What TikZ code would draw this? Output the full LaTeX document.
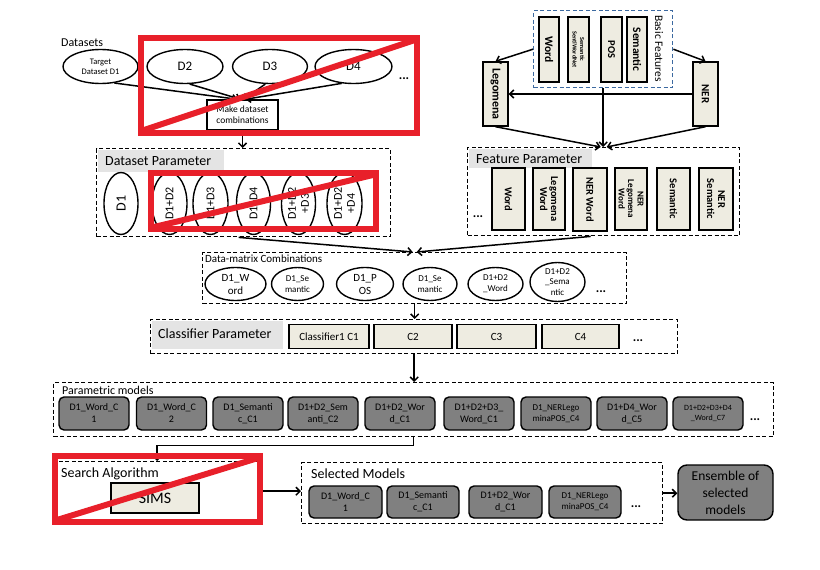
\documentclass[tikz,border=0pt]{standalone}
\usepackage{fontspec}
\setmainfont{Carlito}
\usetikzlibrary{shapes.geometric,arrows.meta}
\definecolor{beige}{RGB}{238,236,225}
\definecolor{mgray}{RGB}{128,128,128}
\definecolor{lblg}{RGB}{228,228,228}
\definecolor{xred}{RGB}{232,32,42}
\definecolor{bdash}{RGB}{60,105,160}
\newcommand\fsz[2]{\fontsize{#1pt}{#2pt}\selectfont}
\begin{document}
\begin{tikzpicture}[x=1pt,y=-1pt,
  bx/.style={draw,line width=1.4pt,fill=beige,inner sep=0pt,align=center},
  rbx/.style={draw,line width=1.4pt,fill=mgray,rounded corners=5pt,inner sep=0pt,align=center,font=\fsz{10}{12}},
  el/.style={ellipse,draw,line width=1.4pt,fill=white,inner sep=0pt,align=center},
  dbox/.style={draw,line width=1.4pt,dash pattern=on 4pt off 2.5pt,inner sep=0pt,anchor=north west},
  lblbg/.style={fill=lblg,anchor=north west,inner sep=0pt},
  arr/.style={-{Straight Barb[length=4pt,width=8pt]},line width=1.5pt},
  redx/.style={draw=xred,line width=6pt},
  ttl/.style={anchor=west,inner sep=0pt,font=\fsz{14}{16}},
  rotu/.style={rotate=90,inner sep=0pt,align=center},
  rotd/.style={rotate=-90,inner sep=0pt,align=center},
  dots/.style={inner sep=0pt,font=\bfseries\fsz{13}{14}},
]
\useasboundingbox (0,0) rectangle (820,570);

% ---------------- Datasets ----------------
\node[ttl,font=\fsz{12}{14}] (dsl) at (61,43) {Datasets};
\node[el,minimum width=75pt,minimum height=34pt,font=\fsz{8.5}{10}] (t1) at (100.5,66.5) {Target\\Dataset D1};
\node[el,minimum width=76pt,minimum height=34pt,font=\fsz{13}{15}] (d2) at (185,66.5) {D2};
\node[el,minimum width=75pt,minimum height=34pt,font=\fsz{13}{15}] (d3) at (270,66.5) {D3};
\node[el,minimum width=77pt,minimum height=34pt,font=\fsz{13}{15}] (d4) at (353.5,66.5) {D4};
\node[dots] (dsdots) at (404,79) {...};
\node[draw,line width=1.4pt,fill=white,minimum width=71pt,minimum height=30pt,inner sep=0pt,align=center,font=\fsz{9.5}{11}] (mk) at (242.5,115) {Make dataset\\combinations};
\draw[arr] (t1.-50) -- ([xshift=-5pt]mk.north);
\draw[arr] (d2.-75) -- ([xshift=-2pt]mk.north);
\draw[arr] (d3.-105) -- ([xshift=1pt]mk.north);
\draw[arr] (d4.-125) -- ([xshift=3pt]mk.north);

% ---------------- Dataset Parameter ----------------
\node[dbox,minimum width=294pt,minimum height=88pt] (dsp) at (96,148) {};
\node[lblbg,minimum width=126pt,minimum height=22pt] (dspbg) at (97.5,149.5) {};
\node[ttl] (dspl) at (105,161) {Dataset Parameter};
\node[el,minimum width=34pt,minimum height=62pt] (p1) at (121,203.5) {};
\node[rotu,font=\fsz{14}{16}] (p1t) at (p1) {D1};
\node[el,minimum width=35pt,minimum height=62pt] (p2) at (169.5,203.5) {};
\node[rotu,font=\fsz{12}{14}] (p2t) at (p2) {D1+D2};
\node[el,minimum width=35pt,minimum height=62pt] (p3) at (210.5,203.5) {};
\node[rotu,font=\fsz{12}{14}] (p3t) at (p3) {D1+D3};
\node[el,minimum width=34pt,minimum height=62pt] (p4) at (253.5,203.5) {};
\node[rotu,font=\fsz{12}{14}] (p4t) at (p4) {D1+D4};
\node[el,minimum width=34pt,minimum height=62pt] (p5) at (298.5,203.5) {};
\node[rotu,font=\fsz{12}{13}] (p5t) at (p5) {D1+D2\\+D3};
\node[el,minimum width=35pt,minimum height=62pt] (p6) at (344.5,203.5) {};
\node[rotu,font=\fsz{12}{13}] (p6t) at (p6) {D1+D2\\+D4};
\node[dots] (pdots) at (372,228) {..};
\draw[arr] (mk.south) -- (mk.south |- dsp.north);

% ---------------- Basic Features ----------------
\node[dbox,draw=bdash,minimum width=139pt,minimum height=77pt] (bf) at (533,10) {};
\node[bx,minimum width=20pt,minimum height=65pt] (bw) at (549,49.5) {};
\node[rotd,font=\bfseries\fsz{11.5}{13}] (bwt) at (bw) {Word};
\node[bx,minimum width=21pt,minimum height=65pt] (bs) at (578.5,49.5) {};
\node[rotd,font=\bfseries\fsz{6.2}{7.5}] (bst) at (bs) {Semantic\\SentiWordNet};
\node[bx,minimum width=21pt,minimum height=65pt] (bp) at (611.5,49.5) {};
\node[rotd,font=\bfseries\fsz{10.5}{12}] (bpt) at (bp) {POS};
\node[bx,minimum width=20pt,minimum height=65pt] (bm) at (637,49.5) {};
\node[rotd,font=\bfseries\fsz{11.5}{13}] (bmt) at (bm) {Semantic};
\node[rotd,font=\fsz{11.5}{13}] (bfl) at (659,48.5) {Basic Features};
\node[bx,minimum width=25pt,minimum height=64pt] (leg) at (495.5,94) {};
\node[rotd,font=\bfseries\fsz{12}{14}] (legt) at (leg) {Legomena};
\node[bx,minimum width=25pt,minimum height=64pt] (ner) at (705.5,94) {};
\node[rotd,font=\bfseries\fsz{11}{13}] (nert) at (ner) {NER};
\draw[arr] (bf.west) -- (leg.north);
\draw[arr] (bf.east) -- (ner.north);
\draw[arr] (ner.west) -- (leg.east);

% ---------------- Feature Parameter ----------------
\node[dbox,minimum width=272pt,minimum height=88pt] (fp) at (467,147) {};
\node[lblbg,minimum width=123pt,minimum height=19pt] (fpbg) at (468.5,148.5) {};
\node[ttl] (fpl) at (476,159) {Feature Parameter};
\node[bx,minimum width=33pt,minimum height=62pt] (f1) at (508.5,199) {};
\node[rotd,font=\bfseries\fsz{10.5}{12}] (f1t) at (f1) {Word};
\node[bx,minimum width=32pt,minimum height=62pt] (f2) at (549,199) {};
\node[rotd,font=\bfseries\fsz{10.5}{11}] (f2t) at (f2) {Legomena\\Word};
\node[bx,minimum width=34pt,minimum height=63pt] (f3) at (590,199.5) {};
\node[rotd,font=\bfseries\fsz{10.5}{12}] (f3t) at (f3) {NER Word};
\node[bx,minimum width=32pt,minimum height=62pt] (f4) at (631,199) {};
\node[rotd,font=\bfseries\fsz{9}{9.5}] (f4t) at (f4) {NER\\Legomena\\Word};
\node[bx,minimum width=33pt,minimum height=62pt] (f5) at (673.5,199) {};
\node[rotd,font=\bfseries\fsz{10.5}{12}] (f5t) at (f5) {Semantic};
\node[bx,minimum width=34pt,minimum height=62pt] (f6) at (716,199) {};
\node[rotd,font=\bfseries\fsz{10.5}{11}] (f6t) at (f6) {NER\\Semantic};
\node[dots] (fdots) at (478,217) {...};
\draw[arr] (bf.south) -- (bf.south |- fp.north);
\draw[arr] (leg.south) -- ([xshift=-3pt]fp.north);
\draw[arr] (ner.south) -- ([xshift=3pt]fp.north);

% ---------------- Data-matrix ----------------
\node[dbox,minimum width=424pt,minimum height=51pt] (dm) at (202,252) {};
\node[ttl,font=\fsz{11}{13}] (dml) at (205,259) {Data-matrix Combinations};
\node[el,minimum width=61pt,minimum height=33pt,font=\fsz{11}{13}] (m1) at (235.5,284) {D1\_W\\ord};
\node[el,minimum width=52pt,minimum height=33pt,font=\fsz{9}{11}] (m2) at (297.5,284) {D1\_Se\\mantic};
\node[el,minimum width=57pt,minimum height=33pt,font=\fsz{11}{13}] (m3) at (365,284) {D1\_P\\OS};
\node[el,minimum width=54pt,minimum height=33pt,font=\fsz{9}{11}] (m4) at (430,284) {D1\_Se\\mantic};
\node[el,minimum width=55pt,minimum height=33pt,font=\fsz{9}{11}] (m5) at (495.5,284) {D1+D2\\\_Word};
\node[el,minimum width=55pt,minimum height=39pt,font=\fsz{9}{10.5}] (m6) at (557.5,282) {D1+D2\\\_Sema\\ntic};
\node[dots] (mdots) at (601,292) {...};
\draw[arr] ([xshift=-5pt]dsp.south) -- ([xshift=-2pt]dm.north);
\draw[arr] ([xshift=-13pt]fp.south) -- ([xshift=2pt]dm.north);

% ---------------- Classifier Parameter ----------------
\node[dbox,minimum width=527pt,minimum height=34pt] (cl) at (150,319) {};
\node[lblbg,minimum width=131pt,minimum height=28pt] (clbg) at (151.5,321) {};
\node[ttl] (cll) at (158,334) {Classifier Parameter};
\node[bx,minimum width=80pt,minimum height=24pt,font=\fsz{11}{13}] (c1) at (329,336.5) {Classifier1 C1};
\node[bx,minimum width=78pt,minimum height=24pt,font=\fsz{11}{13}] (c2) at (413,336.5) {C2};
\node[bx,minimum width=79pt,minimum height=24pt,font=\fsz{11}{13}] (c3) at (496.5,336.5) {C3};
\node[bx,minimum width=77pt,minimum height=24pt,font=\fsz{11}{13}] (c4) at (580.5,336.5) {C4};
\node[dots] (cdots) at (638,341) {...};
\draw[arr] (dm.south) -- (dm.south |- cl.north);

% ---------------- Parametric models ----------------
\node[dbox,minimum width=720pt,minimum height=54pt] (pm) at (53,382) {};
\node[ttl,font=\fsz{12}{14}] (pml) at (62,390) {Parametric models};
\node[rbx,minimum width=70pt,minimum height=33pt] (r1) at (94,413.5) {D1\_Word\_C\\1};
\node[rbx,minimum width=70pt,minimum height=33pt] (r2) at (171.5,413.5) {D1\_Word\_C\\2};
\node[rbx,minimum width=70pt,minimum height=33pt] (r3) at (248,413.5) {D1\_Semanti\\c\_C1};
\node[rbx,minimum width=70pt,minimum height=33pt] (r4) at (323,413.5) {D1+D2\_Sem\\anti\_C2};
\node[rbx,minimum width=70pt,minimum height=33pt] (r5) at (400,413.5) {D1+D2\_Wor\\d\_C1};
\node[rbx,minimum width=70pt,minimum height=33pt] (r6) at (479,413.5) {D1+D2+D3\_\\Word\_C1};
\node[rbx,minimum width=70pt,minimum height=33pt,font=\fsz{9}{11}] (r7) at (556,413.5) {D1\_NERLego\\minaPOS\_C4};
\node[rbx,minimum width=70pt,minimum height=33pt] (r8) at (632,413.5) {D1+D4\_Wor\\d\_C5};
\node[rbx,minimum width=70pt,minimum height=33pt,font=\fsz{8}{10}] (r9) at (708,413.5) {D1+D2+D3+D4\\\_Word\_C7};
\node[dots] (rdots) at (755,420) {...};
\draw[arr] (cl.south) -- (cl.south |- pm.north);

% ---------------- Search Algorithm ----------------
\node[dbox,minimum width=201pt,minimum height=59pt] (sa) at (56,461) {};
\node[ttl] (sal) at (61,474) {Search Algorithm};
\node[bx,minimum width=88pt,minimum height=30pt,font=\fsz{16}{18}] (sims) at (155,498) {SIMS};
\draw[arr] (pm.south) -- ++(0,8) -| (sa.north);

% ---------------- Selected Models ----------------
\node[dbox,minimum width=361pt,minimum height=61pt] (sm) at (301,462) {};
\node[ttl] (sml) at (311,474) {Selected Models};
\node[rbx,minimum width=73pt,minimum height=32pt] (s1) at (345.5,502) {D1\_Word\_C\\1};
\node[rbx,minimum width=72pt,minimum height=32pt] (s2) at (423,502) {D1\_Semanti\\c\_C1};
\node[rbx,minimum width=73pt,minimum height=32pt] (s3) at (505.5,502) {D1+D2\_Wor\\d\_C1};
\node[rbx,minimum width=72pt,minimum height=32pt,font=\fsz{9}{11}] (s4) at (585,502) {D1\_NERLego\\minaPOS\_C4};
\node[dots] (sdots) at (636,507) {...};
\node[rbx,rounded corners=9pt,minimum width=95pt,minimum height=55pt,font=\fsz{13.5}{17}] (ens) at (725.5,492.5) {Ensemble of\\selected\\models};
\draw[arr] (sa.east) -- (sa.east -| sm.west);
\draw[arr] (sm.east) -- (sm.east -| ens.west);

% ---------------- Red crossings ----------------
\draw[redx] (141,38) rectangle (417,133);
\draw[redx] (144,130) -- (415,40);
\draw[redx] (151,172.5) rectangle (375.5,229);
\draw[redx] (154,227) -- (373,175);
\draw[redx] (54.5,456) rectangle (260,522);
\draw[redx] (57,520) -- (258,458);
\end{tikzpicture}
\end{document}
